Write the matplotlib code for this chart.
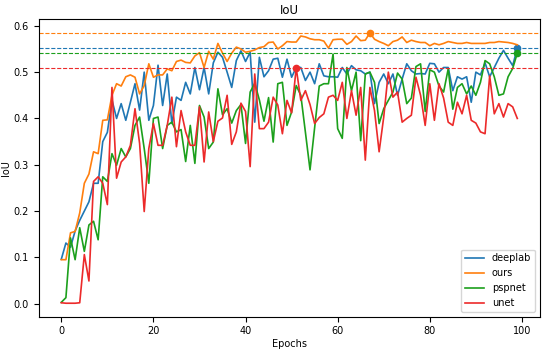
import matplotlib
matplotlib.use('Agg')
import matplotlib.pyplot as plt
import numpy as np

# IoU per epoch
deeplab = [0.096, 0.131, 0.122, 0.157, 0.180, 0.200, 0.220, 0.260, 0.260, 0.350,
           0.370, 0.440, 0.400, 0.432, 0.396, 0.435, 0.475, 0.418, 0.500, 0.396,
           0.428, 0.515, 0.428, 0.496, 0.389, 0.446, 0.439, 0.478, 0.453, 0.510,
           0.462, 0.510, 0.453, 0.520, 0.543, 0.532, 0.500, 0.467, 0.525, 0.546,
           0.523, 0.543, 0.392, 0.532, 0.490, 0.503, 0.528, 0.530, 0.489, 0.528,
           0.489, 0.510, 0.510, 0.482, 0.500, 0.475, 0.518, 0.492, 0.490, 0.490,
           0.489, 0.510, 0.496, 0.514, 0.505, 0.503, 0.496, 0.500, 0.432, 0.478,
           0.496, 0.475, 0.496, 0.450, 0.485, 0.518, 0.503, 0.496, 0.497, 0.496,
           0.519, 0.518, 0.500, 0.510, 0.510, 0.460, 0.490, 0.485, 0.490, 0.435,
           0.500, 0.494, 0.520, 0.490, 0.510, 0.530, 0.547, 0.530, 0.514, 0.552]
ours = [0.095, 0.095, 0.153, 0.156, 0.196, 0.260, 0.280, 0.328, 0.324, 0.396,
        0.397, 0.450, 0.475, 0.470, 0.490, 0.494, 0.489, 0.453, 0.471, 0.518,
        0.489, 0.494, 0.494, 0.507, 0.503, 0.523, 0.526, 0.521, 0.520, 0.535,
        0.542, 0.510, 0.545, 0.528, 0.562, 0.541, 0.523, 0.541, 0.554, 0.550,
        0.543, 0.545, 0.548, 0.553, 0.555, 0.564, 0.565, 0.550, 0.557, 0.566,
        0.565, 0.565, 0.578, 0.576, 0.572, 0.570, 0.570, 0.567, 0.552, 0.570,
        0.571, 0.571, 0.560, 0.566, 0.578, 0.568, 0.569, 0.585, 0.571, 0.566,
        0.562, 0.557, 0.566, 0.569, 0.576, 0.564, 0.569, 0.566, 0.564, 0.564,
        0.557, 0.562, 0.559, 0.562, 0.566, 0.564, 0.562, 0.562, 0.564, 0.562,
        0.562, 0.562, 0.562, 0.564, 0.564, 0.566, 0.565, 0.564, 0.562, 0.559]
pspnet = [0.003, 0.013, 0.142, 0.095, 0.164, 0.113, 0.170, 0.178, 0.138, 0.274,
          0.264, 0.324, 0.299, 0.335, 0.317, 0.335, 0.385, 0.403, 0.335, 0.260,
          0.400, 0.403, 0.335, 0.385, 0.392, 0.371, 0.376, 0.307, 0.385, 0.303,
          0.428, 0.403, 0.335, 0.349, 0.464, 0.408, 0.421, 0.390, 0.417, 0.430,
          0.346, 0.457, 0.476, 0.440, 0.394, 0.445, 0.349, 0.475, 0.478, 0.385,
          0.414, 0.471, 0.450, 0.370, 0.289, 0.380, 0.470, 0.475, 0.475, 0.539,
          0.378, 0.357, 0.510, 0.460, 0.500, 0.352, 0.496, 0.500, 0.478, 0.389,
          0.421, 0.439, 0.457, 0.498, 0.485, 0.432, 0.444, 0.512, 0.518, 0.415,
          0.505, 0.500, 0.470, 0.457, 0.507, 0.420, 0.467, 0.475, 0.453, 0.470,
          0.450, 0.478, 0.525, 0.518, 0.490, 0.450, 0.453, 0.490, 0.508, 0.541]
unet = [0.002, 0.001, 0.001, 0.001, 0.002, 0.106, 0.049, 0.264, 0.274, 0.260,
        0.214, 0.467, 0.271, 0.306, 0.317, 0.342, 0.421, 0.346, 0.199, 0.335,
        0.389, 0.342, 0.342, 0.385, 0.446, 0.339, 0.417, 0.371, 0.342, 0.342,
        0.425, 0.306, 0.414, 0.350, 0.394, 0.401, 0.450, 0.344, 0.371, 0.433,
        0.415, 0.296, 0.496, 0.378, 0.378, 0.392, 0.446, 0.429, 0.367, 0.439,
        0.412, 0.509, 0.439, 0.460, 0.430, 0.389, 0.402, 0.410, 0.446, 0.450,
        0.439, 0.478, 0.400, 0.460, 0.407, 0.467, 0.310, 0.467, 0.417, 0.328,
        0.403, 0.500, 0.446, 0.457, 0.392, 0.400, 0.407, 0.489, 0.450, 0.385,
        0.475, 0.396, 0.475, 0.444, 0.392, 0.385, 0.435, 0.410, 0.450, 0.396,
        0.390, 0.371, 0.367, 0.492, 0.410, 0.432, 0.403, 0.432, 0.425, 0.400]

names = ['deeplab', 'ours', 'pspnet', 'unet']
colors = ['#1f77b4', '#ff7f0e', '#1ca01c', '#ec2a2a']

plt.rcParams['font.size'] = 7

fig = plt.figure(figsize=(5.5, 3.5), dpi=100)
ax = fig.add_axes([0.07, 0.095, 0.912, 0.85])

for name, vals, c in zip(names, [deeplab, ours, pspnet, unet], colors):
    vals = np.array(vals)
    epochs = np.arange(len(vals))
    ax.plot(epochs, vals, color=c, lw=1.2, label=name)
    # mark the best epoch and draw its level across the plot
    best = vals.argmax()
    ax.plot(best, vals[best], 'o', color=c, ms=4.5)
    ax.axhline(vals[best], color=c, ls='--', lw=0.8)

ax.set_title('IoU', pad=4)
ax.set_xlabel('Epochs', labelpad=2)
ax.set_ylabel('IoU', labelpad=2)
ax.legend(loc='lower right')

fig.savefig('out.png', dpi=100)
